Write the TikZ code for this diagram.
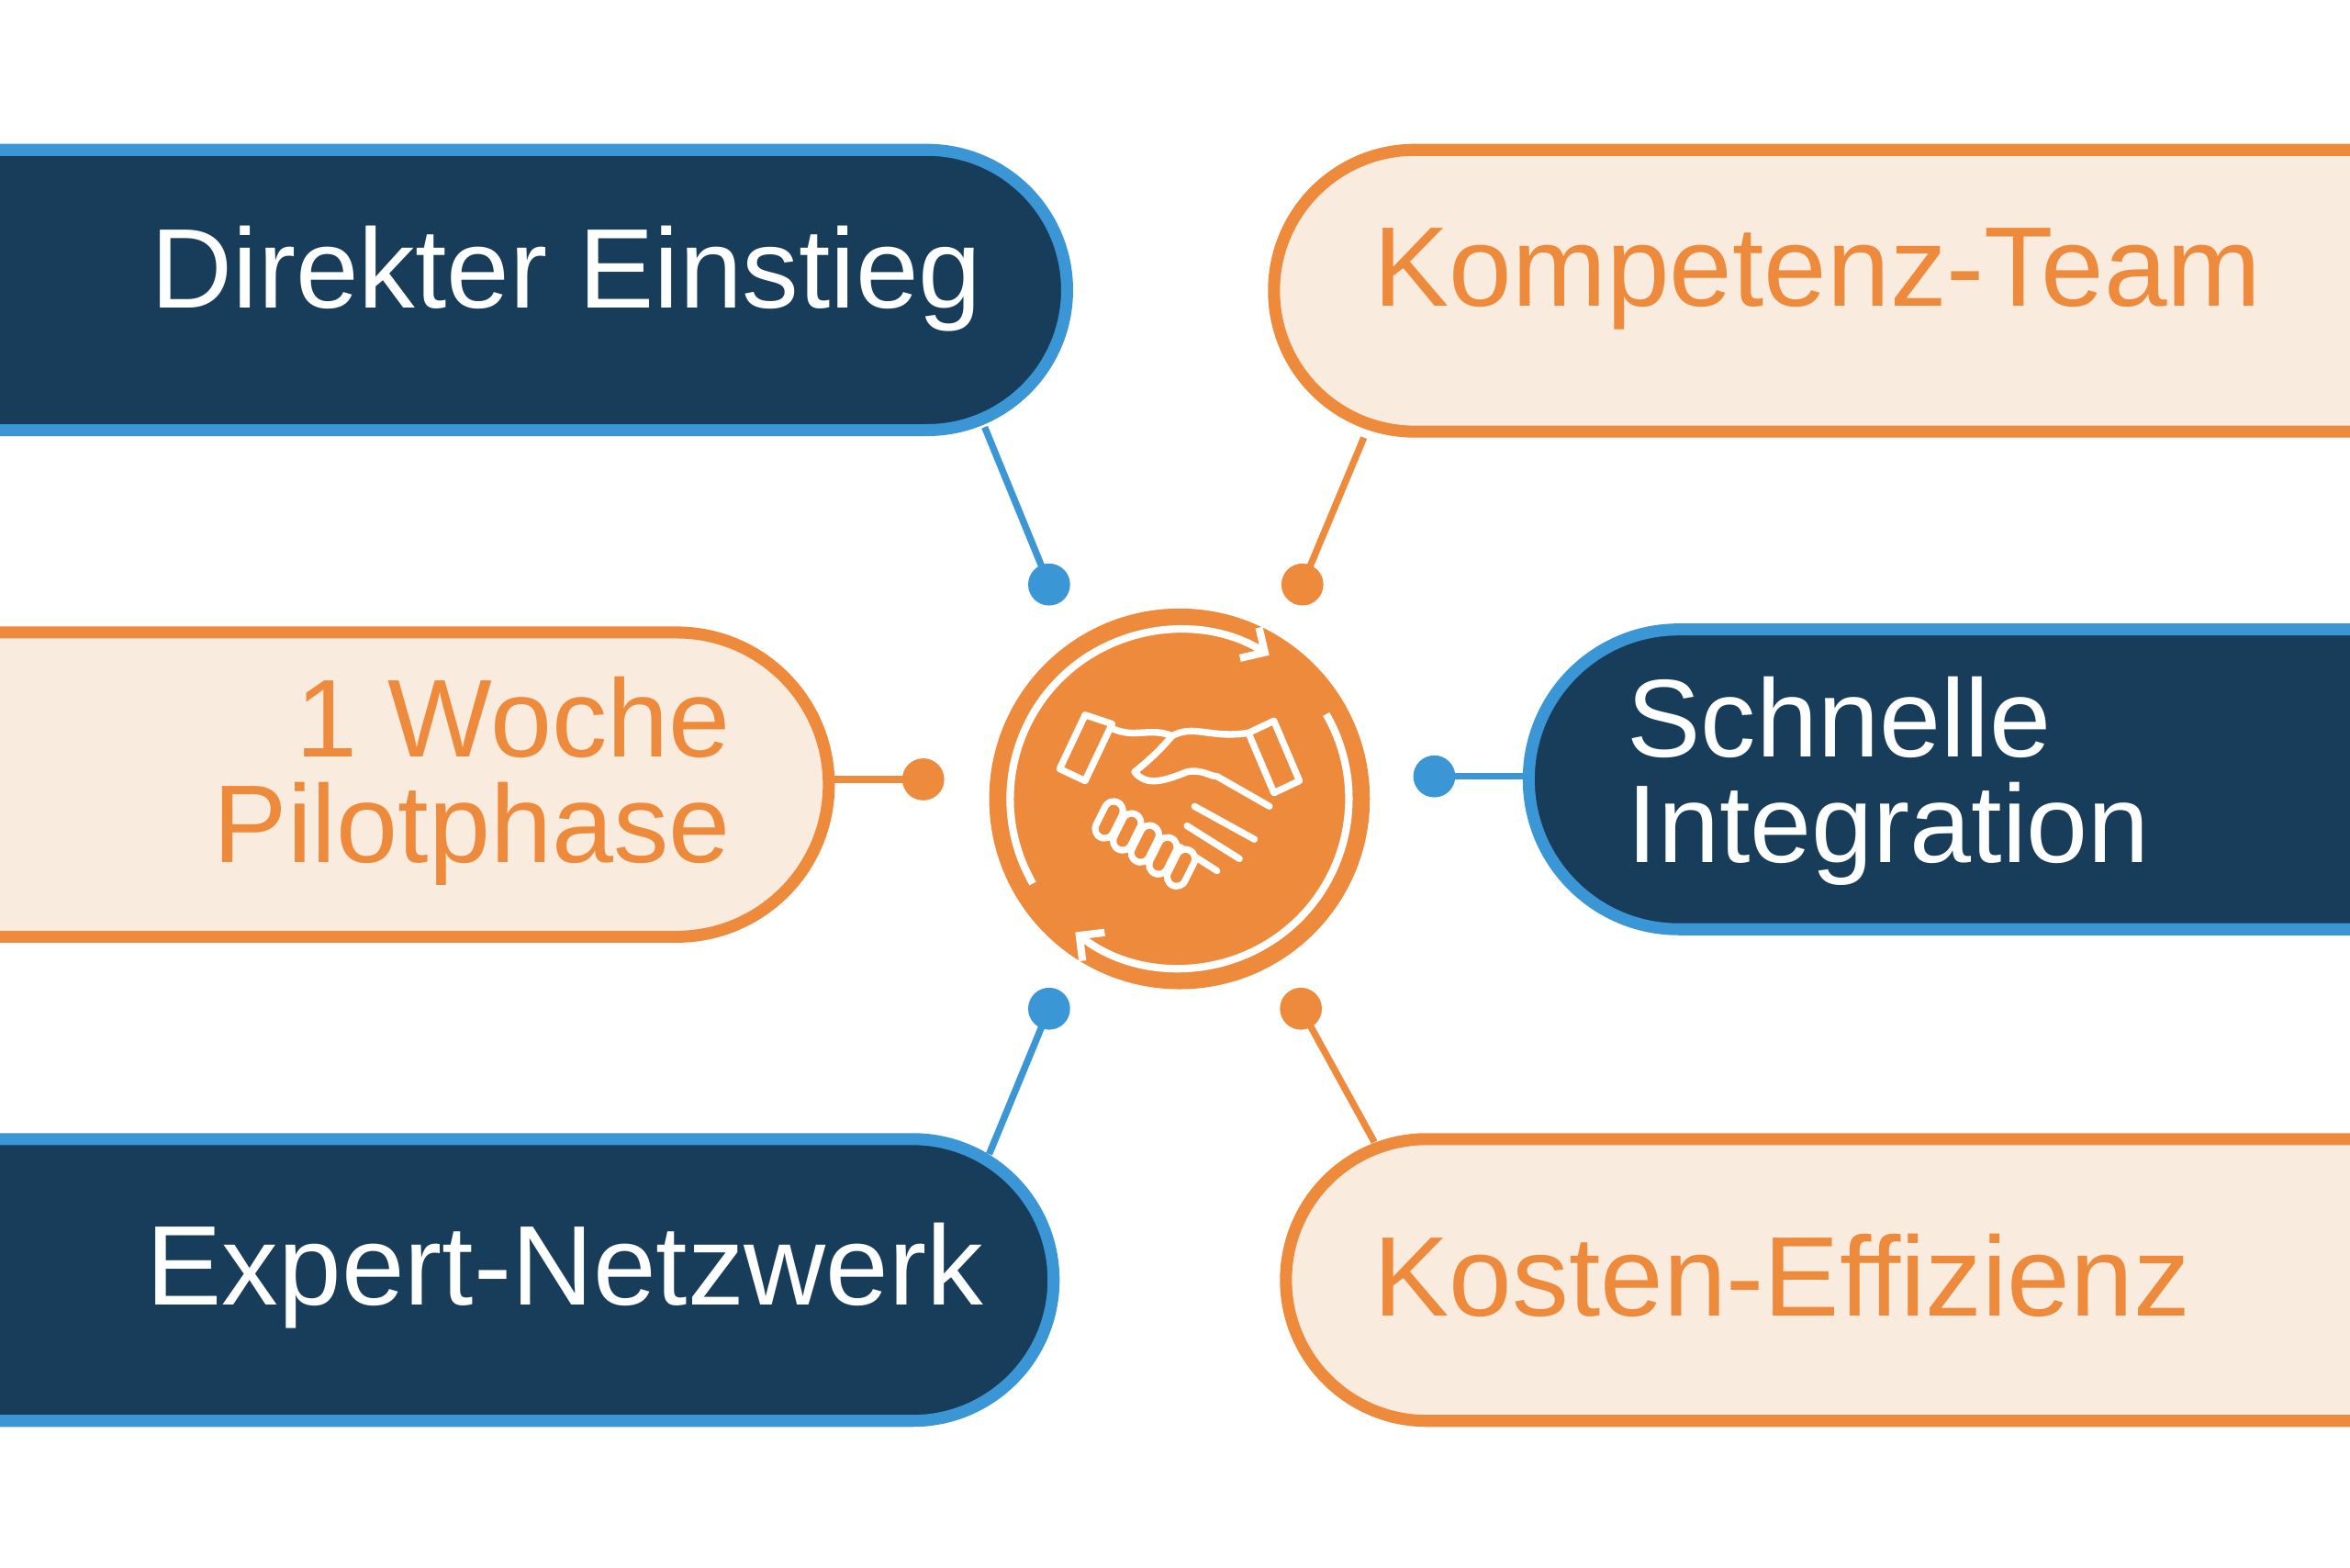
\documentclass[tikz,border=0pt]{standalone}
\usepackage{fontspec}
\setmainfont{Liberation Sans}
\usetikzlibrary{arrows.meta}
\definecolor{navy}{HTML}{173D5A}
\definecolor{skyline}{HTML}{3A96D4}
\definecolor{orng}{HTML}{EE8A3C}
\definecolor{cream}{HTML}{FAEBDF}
\tikzset{
  darkbox/.style={fill=navy,draw=skyline,line width=0.08cm},
  lightbox/.style={fill=cream,draw=orng,line width=0.08cm},
  lbl/.style={font=\fontsize{21.5}{25}\selectfont,inner sep=0pt},
  lbltwo/.style={font=\fontsize{21}{20}\selectfont,inner sep=0pt},
  link/.style={line width=0.045cm},
  finger/.style={white,line width=0.17cm,line cap=round},
  fingerin/.style={orng,line width=0.08cm,line cap=round},
}
\begin{document}
\begin{tikzpicture}
\useasboundingbox (0,0) rectangle (15.68,10.46);
\clip (0,0) rectangle (15.68,10.46);

% boxes on the left
\draw[darkbox] (-0.2,9.46) -- (6.185,9.46) arc (90:-90:0.935) -- (-0.2,7.59);
\draw[lightbox] (-0.2,6.24) -- (4.515,6.24) arc (90:-90:1.015) -- (-0.2,4.21);
\draw[darkbox] (-0.2,2.86) -- (6.09,2.86) arc (90:-90:0.94) -- (-0.2,0.98);
% boxes on the right
\draw[lightbox] (16,9.46) -- (9.44,9.46) arc (90:270:0.94) -- (16,7.58);
\draw[darkbox] (16,6.26) -- (11.2,6.26) arc (90:270:1.0) -- (16,4.26);
\draw[lightbox] (16,2.86) -- (9.52,2.86) arc (90:270:0.94) -- (16,0.98);

\node[lbl,text=white] (einstieg) at (3.78,8.6) {Direkter Einstieg};
\node[lbl,text=orng,anchor=west] (team) at (9.16,8.6) {Kompetenz-Team};
\node[lbltwo,text=orng,align=right,anchor=east] (pilot) at (4.88,5.25) {1 Woche\\Pilotphase};
\node[lbltwo,text=white,align=left,anchor=west] (integ) at (10.85,5.25) {Schnelle\\Integration};
\node[lbl,text=white] (netz) at (3.77,1.95) {Expert-Netzwerk};
\node[lbl,text=orng,anchor=west] (kosten) at (9.16,1.95) {Kosten-Effizienz};

% connectors
\coordinate (e1) at (6.57,7.61);  \coordinate (d1) at (7.00,6.56);
\coordinate (e2) at (9.10,7.54);  \coordinate (d2) at (8.69,6.56);
\coordinate (e3) at (5.55,5.26);  \coordinate (d3) at (6.16,5.26);
\coordinate (e4) at (10.18,5.28); \coordinate (d4) at (9.57,5.28);
\coordinate (e5) at (6.60,2.76);  \coordinate (d5) at (7.00,3.73);
\coordinate (e6) at (9.17,2.84);  \coordinate (d6) at (8.68,3.73);
\draw[link,skyline] (e1) -- (d1); \fill[skyline] (d1) circle (0.14);
\draw[link,orng] (e2) -- (d2);    \fill[orng] (d2) circle (0.14);
\draw[link,orng] (e3) -- (d3);    \fill[orng] (d3) circle (0.14);
\draw[link,skyline] (e4) -- (d4); \fill[skyline] (d4) circle (0.14);
\draw[link,skyline] (e5) -- (d5); \fill[skyline] (d5) circle (0.14);
\draw[link,orng] (e6) -- (d6);    \fill[orng] (d6) circle (0.14);

% centre emblem
\coordinate (hub) at (7.87,5.13);
\fill[orng] (hub) circle (1.27);
\draw[white,line width=0.05cm,-{Straight Barb[length=1.2mm]}] ([shift={(210:1.13)}]hub) arc (210:58:1.13);
\draw[white,line width=0.05cm,-{Straight Barb[length=1.2mm]}] ([shift={(30:1.13)}]hub) arc (30:-128:1.13);
% handshake
\begin{scope}[shift={(hub)},white,line width=0.045cm,line join=round,line cap=round]
\draw (-0.63,0.56) -- (-0.80,0.20) -- (-0.63,0.12) -- (-0.45,0.50) -- cycle;
\draw (0.63,0.52) -- (0.80,0.12) -- (0.63,0.04) -- (0.46,0.44) -- cycle;
\draw (-0.45,0.47) .. controls (-0.30,0.40) and (-0.20,0.48) .. (-0.05,0.42) .. controls (0.10,0.50) and (0.20,0.40) .. (0.46,0.44);
\draw (-0.05,0.42) .. controls (-0.15,0.30) and (-0.25,0.22) .. (-0.30,0.18) .. controls (-0.22,0.08) and (-0.10,0.12) .. (0.05,0.18) .. controls (0.15,0.20) and (0.20,0.15) .. (0.25,0.15) -- (0.60,-0.05);
\draw (0.10,-0.05) -- (0.50,-0.27);
\draw (0.05,-0.18) -- (0.40,-0.40);
\draw (0.00,-0.32) -- (0.25,-0.48);
\foreach \dx/\dy in {-0.50/-0.20,-0.38/-0.28,-0.26/-0.36,-0.14/-0.44,-0.02/-0.52}
  {\draw[finger] (\dx,\dy) -- ++(0.06,0.12);
   \draw[fingerin] (\dx,\dy) -- ++(0.06,0.12);}
\end{scope}
\end{tikzpicture}
\end{document}
